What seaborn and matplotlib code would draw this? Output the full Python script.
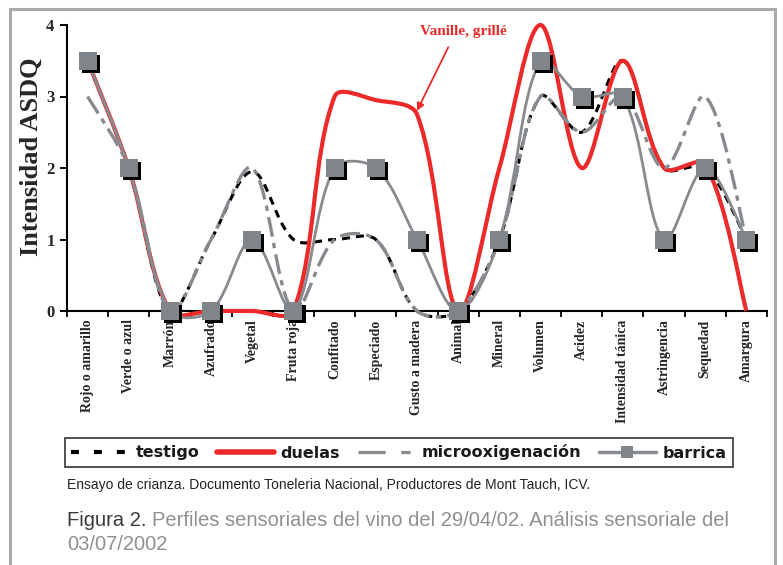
import numpy as np
import seaborn as sns
import matplotlib.pyplot as plt
from matplotlib.path import Path
from matplotlib.patches import PathPatch, Rectangle
from matplotlib.lines import Line2D
from matplotlib.transforms import offset_copy

# sensory attributes on the x axis
categories = ['Rojo o amarillo', 'Verde o azul', 'Marrón', 'Azufrado', 'Vegetal',
              'Fruta roja', 'Confitado', 'Especiado', 'Gusto a madera', 'Animal',
              'Mineral', 'Volumen', 'Acidez', 'Intensidad tánica', 'Astringencia',
              'Sequedad', 'Amargura']

# intensity values
testigo = [3.5, 2, 0, 1, 1.95, 1, 1, 1, 0, 0, 1, 3, 2.5, 3.5, 2, 2, 1]
duelas = [3.5, 2, 0, 0, 0, 0, 3, 2.95, 2.75, 0, 2, 4, 2, 3.5, 2, 2.05, 0]
micro = [3, 2, 0, 1, 2, 0, 1, 1, 0, 0, 1, 3, 2.5, 3, 2, 3, 1]
barrica = [3.5, 2, 0, 0, 1, 0, 2, 2, 1, 0, 1, 3.5, 3, 3, 1, 2, 1]

y_ticks = [0, 1, 2, 3, 4]

RED = '#ec2a2a'
GREY = '#878b8f'
MARKER_GREY = '#80858a'

sns.set_style('ticks')
plt.rcParams['font.serif'] = ['Liberation Serif', 'DejaVu Serif']
plt.rcParams['font.sans-serif'] = ['Liberation Sans', 'DejaVu Sans']

# pixels per data unit on the axes (used for the curve smoothing)
PX_X = 700 / len(categories)
PX_Y = 286 / 4


# excel style smoothed line: bezier through every point, arms weighted by segment length
def smooth_path(xs, ys):
    pts = np.column_stack([np.asarray(xs) * PX_X, np.asarray(ys) * PX_Y]).astype(float)
    n = len(pts)
    arm_in = np.zeros_like(pts)
    arm_out = np.zeros_like(pts)
    for i in range(n):
        prev_p = pts[max(i - 1, 0)]
        next_p = pts[min(i + 1, n - 1)]
        d = next_p - prev_p
        l_prev = np.hypot(*(pts[i] - prev_p))
        l_next = np.hypot(*(next_p - pts[i]))
        tot = l_prev + l_next
        if tot == 0:
            continue
        if i == 0 or i == n - 1:
            arm_out[i] = d / 6
            arm_in[i] = d / 6
        else:
            arm_in[i] = d * l_prev / tot / 3
            arm_out[i] = d * l_next / tot / 3
    verts = [pts[0]]
    codes = [Path.MOVETO]
    for i in range(n - 1):
        verts += [pts[i] + arm_out[i], pts[i + 1] - arm_in[i + 1], pts[i + 1]]
        codes += [Path.CURVE4] * 3
    verts = np.array(verts) / [PX_X, PX_Y]
    return Path(verts, codes)


fig = plt.figure(figsize=(7.83, 5.65), dpi=100)
ax = fig.add_axes([67 / 783, 1 - 311 / 565, 700 / 783, 286 / 565])

x = np.arange(len(categories))

# draw order as in the original: testigo, duelas, microoxigenacion, barrica
series = [
    (testigo, dict(edgecolor='black', lw=2.2, linestyle=(0, (2.6, 2.0)))),
    (duelas, dict(edgecolor=RED, lw=3.0, linestyle='-')),
    (micro, dict(edgecolor=GREY, lw=2.4, linestyle=(0, (6.0, 1.9, 1.6, 1.9)))),
    (barrica, dict(edgecolor=GREY, lw=2.0, linestyle='-')),
]
for z, (vals, style) in enumerate(series):
    patch = PathPatch(smooth_path(x, vals), fill=False, clip_on=False,
                      joinstyle='round', zorder=2 + z, **style)
    ax.add_patch(patch)

# barrica markers with their black shadow
sns.scatterplot(x=x, y=barrica, marker='s', s=150, color='black', linewidth=0,
                ax=ax, clip_on=False, zorder=7)
ax.collections[-1].set_offset_transform(offset_copy(ax.transData, fig=fig, x=2.2, y=-2.2, units='points'))
sns.scatterplot(x=x, y=barrica, marker='s', s=150, color=MARKER_GREY, linewidth=0,
                ax=ax, clip_on=False, zorder=8)

ax.set_xlim(-0.5, len(categories) - 0.5)
ax.set_ylim(0, 4)
ax.set_xticks(x)
ax.set_xticklabels(categories, rotation=90, va='top', ha='center',
                   family='serif', weight='bold', fontsize=10)
ax.set_xticks(np.arange(-0.5, len(categories), 1), minor=True)
ax.tick_params(axis='x', which='major', length=0, pad=6)
ax.tick_params(axis='x', which='minor', length=4, width=1.3, direction='out', color='black')
ax.set_yticks(y_ticks)
ax.set_yticklabels([str(v) for v in y_ticks], family='serif', weight='bold', fontsize=12)
ax.tick_params(axis='y', length=5, width=1.4, direction='out', color='black', pad=4)
sns.despine(ax=ax)
for side in ['left', 'bottom']:
    ax.spines[side].set_color('black')
    ax.spines[side].set_linewidth(1.5)
ax.set_ylabel('Intensidad ASDQ', family='serif', weight='bold', fontsize=19)
ax.yaxis.set_label_coords(-0.035, 0.54)

# red annotation
ax.text(9.12, 3.91, 'Vanille, grillé', color=RED, family='serif', weight='bold',
        fontsize=11, ha='center', va='center')
ax.annotate('', xy=(8.0, 2.8), xytext=(8.76, 3.69),
            arrowprops=dict(arrowstyle='-|>', color=RED, lw=1.3, mutation_scale=11,
                            shrinkA=0, shrinkB=0))

# legend
handles = [
    Line2D([], [], color='black', lw=3, linestyle=(0, (1.9, 3.6))),
    Line2D([], [], color=RED, lw=4),
    Line2D([], [], color=GREY, lw=2.3, linestyle=(0, (8.5, 4.9, 2.9, 4.9))),
    Line2D([], [], color=GREY, lw=2.5, marker='s', markersize=9,
           markerfacecolor=MARKER_GREY, markeredgewidth=0),
]
labels = ['testigo', 'duelas', 'microoxigenación', 'barrica']
leg = fig.legend(handles, labels, loc='center', bbox_to_anchor=(399 / 783, 1 - 452.5 / 565),
                 ncol=4, frameon=True, fancybox=False, edgecolor='black',
                 prop=dict(family='DejaVu Sans', weight='bold', size=11.5),
                 handlelength=3.6, handletextpad=0.4, columnspacing=1.1, borderpad=0.4)
leg.get_frame().set_linewidth(1.2)
for t in leg.get_texts():
    t.set_color('#1a1a1a')

# outer grey frame
fig.patches.append(Rectangle((9.5 / 783, -0.05), (775 - 9.5) / 783, 1.05 - 8.5 / 565,
                             transform=fig.transFigure, fill=False,
                             edgecolor='#a9a9a9', lw=2.2))

# source and caption
fig.text(67 / 783, 1 - 485 / 565,
         'Ensayo de crianza. Documento Toneleria Nacional, Productores de Mont Tauch, ICV.',
         family='sans-serif', fontsize=10, color='#222222', va='center')
t1 = fig.text(67 / 783, 1 - 520 / 565, 'Figura 2.', family='sans-serif', fontsize=14.5,
              color='#3a3a3a', va='center')
fig.canvas.draw()
w = t1.get_window_extent().width
fig.text((67 + w + 5) / 783, 1 - 520 / 565,
         'Perfiles sensoriales del vino del 29/04/02. Análisis sensoriale del',
         family='sans-serif', fontsize=14.5, color='#909090', va='center')
fig.text(67 / 783, 1 - 545 / 565, '03/07/2002', family='sans-serif', fontsize=14.5,
         color='#909090', va='center')

fig.savefig('out.png', dpi=100)
